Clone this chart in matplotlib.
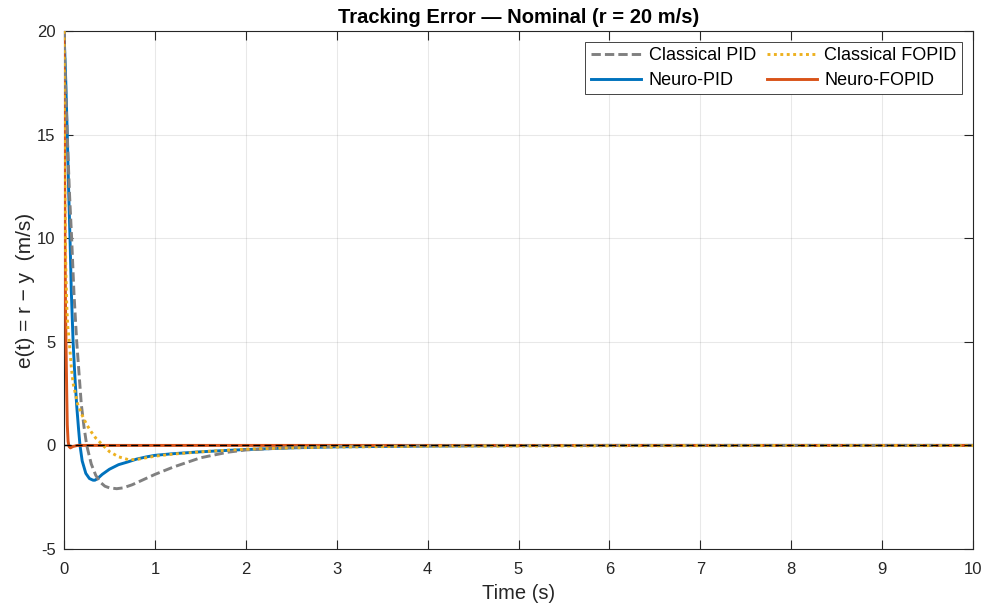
import numpy as np
import matplotlib
matplotlib.use("Agg")
import matplotlib.pyplot as plt

plt.rcParams['font.family'] = ['Liberation Sans', 'DejaVu Sans']

# Classical PID (gray dashed)
t_cpid = [0, 0.02, 0.04, 0.06, 0.084, 0.11, 0.14, 0.17, 0.19, 0.22, 0.25, 0.3, 0.35, 0.4,
          0.45, 0.5, 0.58, 0.65, 0.75, 0.85, 1.0, 1.2, 1.5, 1.8, 2.0, 2.5, 3, 4, 5, 6, 8, 10]
e_cpid = [20, 17, 14.5, 12.2, 10, 7.3, 5, 3.2, 2, 0.9, 0, -0.9, -1.45, -1.78,
          -1.97, -2.05, -2.09, -2.05, -1.9, -1.7, -1.4, -1.05, -0.6, -0.33, -0.22, -0.1, -0.05, -0.02, -0.01, 0, 0, 0]

# Classical FOPID (yellow dotted)
t_cfopid = [0, 0.005, 0.01, 0.02, 0.03, 0.04, 0.058, 0.08, 0.10, 0.125, 0.15, 0.2, 0.25, 0.3,
            0.35, 0.43, 0.5, 0.6, 0.71, 0.8, 1.0, 1.2, 1.5, 2.0, 2.5, 3, 4, 5, 6, 8, 10]
e_cfopid = [20, 15, 12, 8.5, 6.8, 5.8, 5.0, 3.8, 3.0, 2.5, 2.0, 1.45, 1.0, 0.65,
            0.35, 0, -0.3, -0.55, -0.69, -0.68, -0.52, -0.42, -0.31, -0.18, -0.12, -0.08, -0.04, -0.03, -0.02, -0.01, -0.01]

# Neuro-PID (blue)
t_npid = [0, 0.02, 0.036, 0.05, 0.066, 0.08, 0.10, 0.12, 0.14, 0.16, 0.176, 0.20, 0.24, 0.28,
          0.32, 0.34, 0.37, 0.42, 0.5, 0.6, 0.7, 0.8, 0.9, 1.0, 1.2, 1.5, 1.8, 2.0, 2.5, 3.0, 4, 5, 6, 8, 10]
e_npid = [20, 17.5, 15, 12.5, 10, 7.5, 5, 3.3, 1.9, 0.8, 0, -0.75, -1.35, -1.6,
          -1.68, -1.68, -1.6, -1.4, -1.15, -0.93, -0.8, -0.66, -0.56, -0.48, -0.4, -0.31, -0.24, -0.2, -0.12, -0.07, -0.03, -0.01, 0, 0, 0]

# Neuro-FOPID (orange)
t_nfopid = [0, 0.005, 0.011, 0.016, 0.022, 0.03, 0.036, 0.045, 0.055, 0.07, 0.1, 0.15, 10]
e_nfopid = [20, 15, 10, 7, 5, 2.5, 1, 0.2, -0.05, -0.12, -0.05, 0, 0]

x_ticks = [0, 1, 2, 3, 4, 5, 6, 7, 8, 9, 10]
y_ticks = [-5, 0, 5, 10, 15, 20]

fig = plt.figure(figsize=(9.87, 6.10), dpi=100)
ax = fig.add_axes([64/987, 1-549/610, (973-64)/987, (549-31)/610])

lw = 2.1
ax.plot(t_npid, e_npid, color='#0072BD', lw=lw, label='Neuro-PID', zorder=3)
ax.plot(t_nfopid, e_nfopid, color='#D95319', lw=lw, label='Neuro-FOPID', zorder=3.2)
ax.plot(t_cpid, e_cpid, color='#808080', lw=lw, ls=(0, (3.2, 1.4)), label='Classical PID', zorder=3.4)
ax.plot(t_cfopid, e_cfopid, color='#EDB120', lw=lw, ls=(0, (1, 1.2)), label='Classical FOPID', zorder=3.6)
ax.axhline(0, color='black', lw=1.0, ls=(0, (5, 3)), zorder=4)

ax.set_xlim(0, 10)
ax.set_ylim(-5, 20)
ax.set_xticks(x_ticks)
ax.set_yticks(y_ticks)
ax.set_xticklabels([str(v) for v in x_ticks])
ax.set_yticklabels([str(v) for v in y_ticks])

ax.grid(True, color='#262626', alpha=0.1, lw=0.8)
ax.set_axisbelow(True)
for s in ax.spines.values():
    s.set_color('#262626')
    s.set_linewidth(0.8)
ax.tick_params(direction='in', length=6.5, width=0.8, color='#262626', labelcolor='#262626',
               labelsize=12, top=True, right=True)
ax.tick_params(axis='x', pad=9.5)
ax.tick_params(axis='y', pad=6)

ax.set_title('Tracking Error — Nominal (r = 20 m/s)', fontsize=14.5, fontweight='bold', color='black', pad=6)
ax.set_xlabel('Time (s)', fontsize=14.5, color='#262626', labelpad=5)
ax.set_ylabel('e(t) = r − y  (m/s)', fontsize=15, color='#262626', labelpad=1.5)

h, l = ax.get_legend_handles_labels()
order = [l.index('Classical PID'), l.index('Neuro-PID'), l.index('Classical FOPID'), l.index('Neuro-FOPID')]
leg = ax.legend([h[i] for i in order], [l[i] for i in order], ncol=2, loc='upper right',
                fontsize=13, fancybox=False, framealpha=1, edgecolor='#262626',
                handlelength=2.8, handletextpad=0.4, columnspacing=0.6, labelspacing=0.42,
                borderpad=0.3, borderaxespad=0.6)
leg.get_frame().set_linewidth(0.6)

fig.savefig('out.png', dpi=100)
